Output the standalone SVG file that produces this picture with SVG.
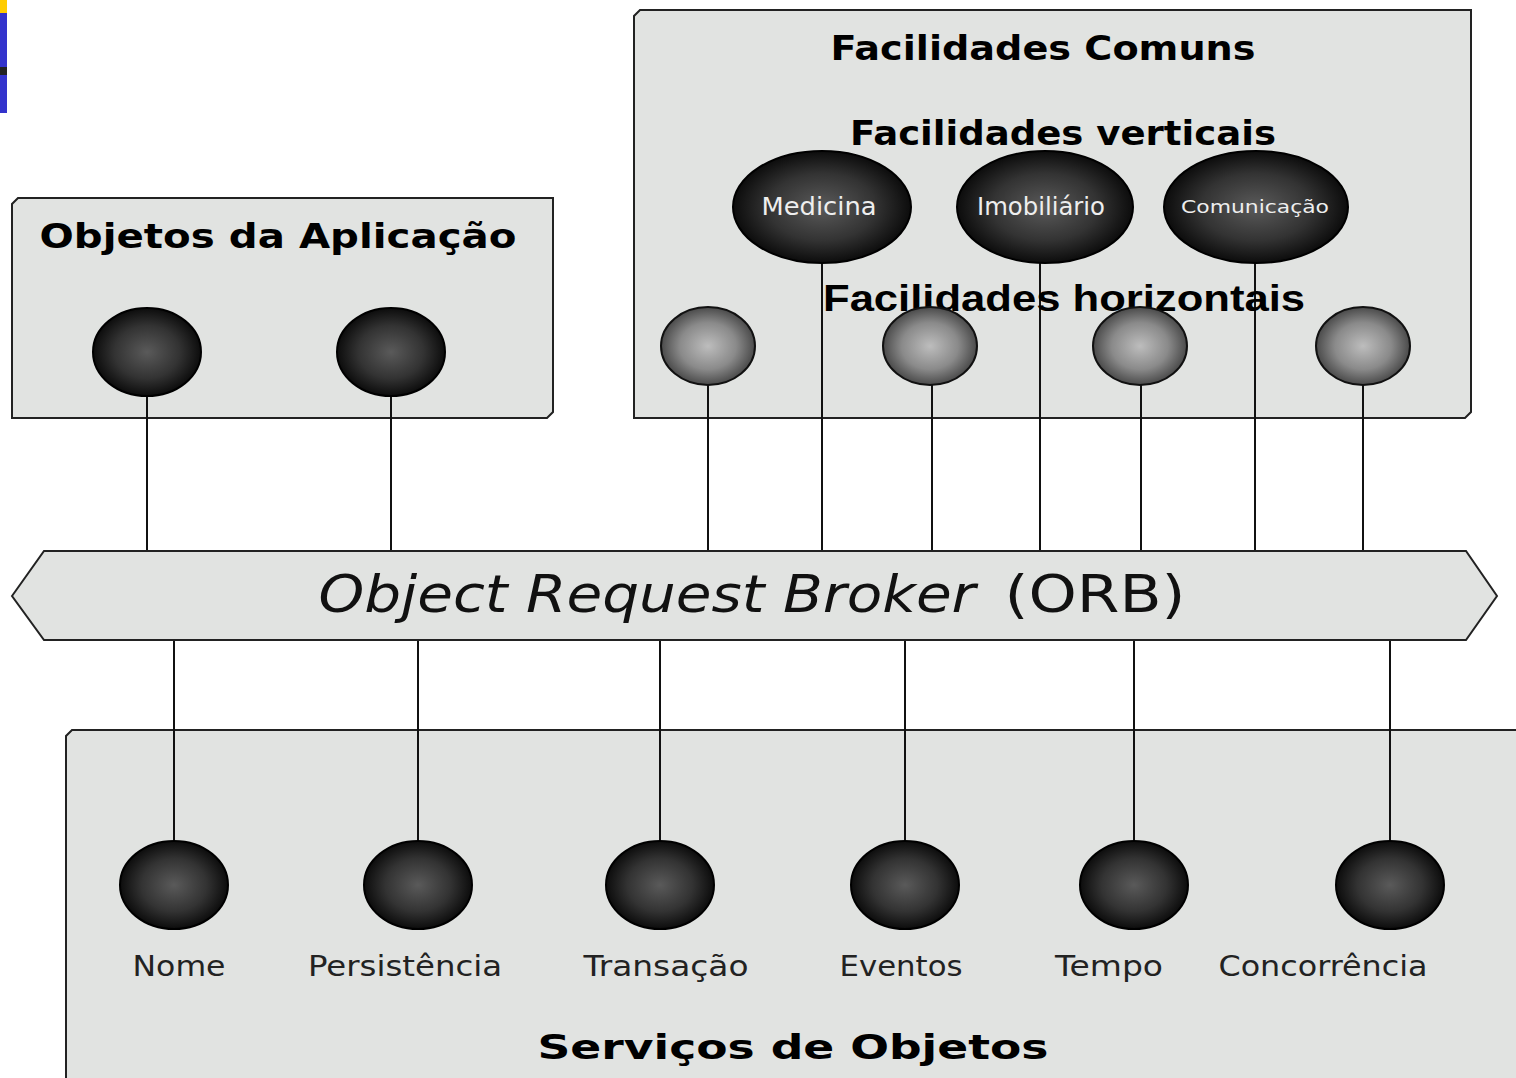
<svg xmlns="http://www.w3.org/2000/svg" width="1516" height="1078" viewBox="0 0 1516 1078">
<defs>
<radialGradient id="dark" cx="50%" cy="50%" r="50%">
<stop offset="0" stop-color="#5a5a5a"/>
<stop offset="0.6" stop-color="#333"/>
<stop offset="1" stop-color="#0c0c0c"/>
</radialGradient>
<radialGradient id="light" cx="50%" cy="50%" r="50%">
<stop offset="0" stop-color="#bdbdbd"/>
<stop offset="0.6" stop-color="#8a8a8a"/>
<stop offset="1" stop-color="#4a4a4a"/>
</radialGradient>
<style>
.box{fill:#e1e3e1;stroke:#222;stroke-width:2}
.ball{fill:url(#dark);stroke:#000;stroke-width:2}
.lball{fill:url(#light);stroke:#111;stroke-width:2}
.ln{stroke:#111;stroke-width:2;fill:none}
.title{font-family:"DejaVu Sans",Verdana,sans-serif;font-weight:bold;font-size:34px;fill:#000}
.lbl{font-family:"DejaVu Sans",Verdana,sans-serif;font-size:29px;fill:#222;text-anchor:middle}
.in{font-family:"DejaVu Sans",Verdana,sans-serif;fill:#eee;text-anchor:middle}
</style>
</defs>
<rect x="0" y="0" width="7" height="13" fill="#ffcc00"/>
<rect x="0" y="13" width="7" height="54" fill="#3333cc"/>
<rect x="0" y="67" width="7" height="8" fill="#222"/>
<rect x="0" y="75" width="7" height="38" fill="#3333cc"/>

<g id="objetos">
<path class="box" d="M18 198 H553 V412 L547 418 H12 V204 Z"/>
<text class="title" x="278" y="248" text-anchor="middle" textLength="477" lengthAdjust="spacingAndGlyphs">Objetos da Aplicação</text>
</g>
<g id="facilidades">
<path class="box" d="M640 10 H1471 V412 L1465 418 H634 V16 Z"/>
<text class="title" x="1043" y="60" text-anchor="middle" textLength="425" lengthAdjust="spacingAndGlyphs">Facilidades Comuns</text>
<text class="title" x="1063" y="145" text-anchor="middle" textLength="426" lengthAdjust="spacingAndGlyphs">Facilidades verticais</text>
</g>
<g id="servicos">
<path class="box" d="M72 730 H1520 V1082 H66 V736 Z"/>
<text class="title" x="793" y="1059" text-anchor="middle" textLength="511" lengthAdjust="spacingAndGlyphs">Serviços de Objetos</text>
</g>

<g id="connectors">
<line class="ln" x1="147" y1="396" x2="147" y2="551"/>
<line class="ln" x1="391" y1="396" x2="391" y2="551"/>
<line class="ln" x1="708" y1="385" x2="708" y2="551"/>
<line class="ln" x1="822" y1="262" x2="822" y2="551"/>
<line class="ln" x1="932" y1="385" x2="932" y2="551"/>
<line class="ln" x1="1040" y1="262" x2="1040" y2="551"/>
<line class="ln" x1="1141" y1="385" x2="1141" y2="551"/>
<line class="ln" x1="1255" y1="262" x2="1255" y2="551"/>
<line class="ln" x1="1363" y1="385" x2="1363" y2="551"/>
<line class="ln" x1="174" y1="640" x2="174" y2="841"/>
<line class="ln" x1="418" y1="640" x2="418" y2="841"/>
<line class="ln" x1="660" y1="640" x2="660" y2="841"/>
<line class="ln" x1="905" y1="640" x2="905" y2="841"/>
<line class="ln" x1="1134" y1="640" x2="1134" y2="841"/>
<line class="ln" x1="1390" y1="640" x2="1390" y2="841"/>
</g>

<g id="orb">
<polygon class="box" points="12,596 44,551 1466,551 1497,596 1466,640 44,640"/>
<text x="647" y="612" text-anchor="middle" font-family="DejaVu Sans,Verdana,sans-serif" font-style="italic" font-size="52" fill="#111" textLength="657" lengthAdjust="spacingAndGlyphs">Object Request Broker</text>
<text x="1095" y="612" text-anchor="middle" font-family="DejaVu Sans,Verdana,sans-serif" font-size="52" fill="#111" textLength="181" lengthAdjust="spacingAndGlyphs">(ORB)</text>
</g>

<g id="app1"><ellipse class="ball" cx="147" cy="352" rx="54" ry="44"/></g>
<g id="app2"><ellipse class="ball" cx="391" cy="352" rx="54" ry="44"/></g>

<g id="medicina"><ellipse class="ball" cx="822" cy="207" rx="89" ry="56"/>
<text class="in" x="819" y="215" font-size="24" textLength="115" lengthAdjust="spacingAndGlyphs">Medicina</text></g>
<g id="imobiliario"><ellipse class="ball" cx="1045" cy="207" rx="88" ry="56"/>
<text class="in" x="1041" y="215" font-size="24" textLength="128" lengthAdjust="spacingAndGlyphs">Imobiliário</text></g>
<g id="comunicacao"><ellipse class="ball" cx="1256" cy="207" rx="92" ry="56"/>
<text class="in" x="1255" y="213" font-size="18" textLength="148" lengthAdjust="spacingAndGlyphs">Comunicação</text></g>

<g id="horiz">
<text x="1064" y="311" text-anchor="middle" font-family="Liberation Sans,Arial,sans-serif" font-weight="bold" font-size="36" fill="#000" textLength="482" lengthAdjust="spacingAndGlyphs">Facilidades horizontais</text>
</g>
<g id="h1"><ellipse class="lball" cx="708" cy="346" rx="47" ry="39"/></g>
<g id="h2"><ellipse class="lball" cx="930" cy="346" rx="47" ry="39"/></g>
<g id="h3"><ellipse class="lball" cx="1140" cy="346" rx="47" ry="39"/></g>
<g id="h4"><ellipse class="lball" cx="1363" cy="346" rx="47" ry="39"/></g>

<g id="nome"><ellipse class="ball" cx="174" cy="885" rx="54" ry="44"/>
<text class="lbl" x="179" y="976" textLength="93" lengthAdjust="spacingAndGlyphs">Nome</text></g>
<g id="persistencia"><ellipse class="ball" cx="418" cy="885" rx="54" ry="44"/>
<text class="lbl" x="405" y="976" textLength="194" lengthAdjust="spacingAndGlyphs">Persistência</text></g>
<g id="transacao"><ellipse class="ball" cx="660" cy="885" rx="54" ry="44"/>
<text class="lbl" x="666" y="976" textLength="165" lengthAdjust="spacingAndGlyphs">Transação</text></g>
<g id="eventos"><ellipse class="ball" cx="905" cy="885" rx="54" ry="44"/>
<text class="lbl" x="901" y="976" textLength="123" lengthAdjust="spacingAndGlyphs">Eventos</text></g>
<g id="tempo"><ellipse class="ball" cx="1134" cy="885" rx="54" ry="44"/>
<text class="lbl" x="1109" y="976" textLength="108" lengthAdjust="spacingAndGlyphs">Tempo</text></g>
<g id="concorrencia"><ellipse class="ball" cx="1390" cy="885" rx="54" ry="44"/>
<text class="lbl" x="1323" y="976" textLength="209" lengthAdjust="spacingAndGlyphs">Concorrência</text></g>
</svg>
